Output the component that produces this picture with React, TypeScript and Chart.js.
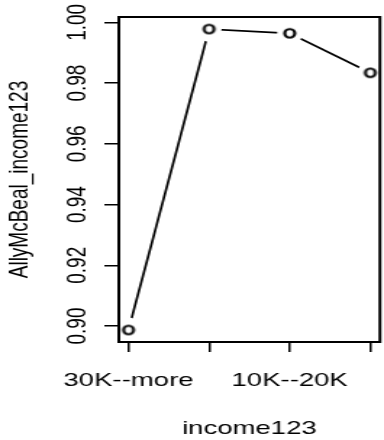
import React, { useEffect, useRef } from "react";
import { Chart, registerables } from "chart.js";

Chart.register(...registerables);

// ---- data ----
const categories = ["30K--more", "20K--30K", "10K--20K", "0--10K"];
const values = [0.8987, 0.9978, 0.9964, 0.9834];
const yTickValues = [0.9, 0.92, 0.94, 0.96, 0.98, 1.0];
// R drops the overlapping labels: only these category labels are printed
const shownLabelIndices = [0, 2];

// ---- layout (the reference is horizontally stretched) ----
const OUT_W = 384;
const OUT_H = 440;
const CANVAS_W = 265;
const SX = OUT_W / CANVAS_W;
const FONT = "'Liberation Sans', Arial, Helvetica, sans-serif";
const FONT_SIZE = 19;
const GAP_SCREEN_R = 12.5; // R type="b" gap around each point

function ellipseImage(
  wScreen: number,
  hScreen: number,
  lineWidth: number,
  fill: string | null,
  stroke: string | null
): HTMLCanvasElement {
  const rx = wScreen / 2 / SX;
  const ry = hScreen / 2;
  const c = document.createElement("canvas");
  c.width = Math.ceil(2 * rx + lineWidth + 2);
  c.height = Math.ceil(2 * ry + lineWidth + 2);
  const ctx = c.getContext("2d")!;
  ctx.beginPath();
  ctx.ellipse(c.width / 2, c.height / 2, rx, ry, 0, 0, Math.PI * 2);
  if (fill) {
    ctx.fillStyle = fill;
    ctx.fill();
  }
  if (stroke) {
    ctx.lineWidth = lineWidth;
    ctx.strokeStyle = stroke;
    ctx.stroke();
  }
  return c;
}

// After the connecting line (dataset 1) is drawn, blank a gap around each point
const gapPlugin = {
  id: "rgap",
  afterDatasetDraw(chart: any, args: any) {
    if (args.index !== 1) return;
    const { ctx, chartArea } = chart;
    const meta = chart.getDatasetMeta(0);
    ctx.save();
    ctx.beginPath();
    ctx.rect(
      chartArea.left,
      chartArea.top,
      chartArea.right - chartArea.left,
      chartArea.bottom - chartArea.top
    );
    ctx.clip();
    ctx.fillStyle = "#fff";
    for (const el of meta.data) {
      ctx.beginPath();
      ctx.ellipse(el.x, el.y, GAP_SCREEN_R / SX, GAP_SCREEN_R, 0, 0, Math.PI * 2);
      ctx.fill();
    }
    ctx.restore();
  },
};

const boxPlugin = {
  id: "rbox",
  afterDatasetsDraw(chart: any) {
    const { ctx, chartArea } = chart;
    ctx.save();
    ctx.strokeStyle = "#000";
    ctx.lineWidth = 2;
    ctx.strokeRect(
      chartArea.left,
      chartArea.top,
      chartArea.right - chartArea.left,
      chartArea.bottom - chartArea.top
    );
    ctx.restore();
  },
};

export default function App() {
  const ref = useRef<HTMLCanvasElement | null>(null);

  useEffect(() => {
    document.body.style.margin = "0";
    if (!ref.current) return;

    const lo = Math.min(...values);
    const hi = Math.max(...values);
    const yPad = (hi - lo) * 0.04;
    const n = categories.length;
    const xPad = (n - 1) * 0.04;
    const pts = values.map((v, i) => ({ x: i, y: v }));

    const ring = ellipseImage(10, 8.5, 2.2, "#fff", "#000");

    const font = { family: FONT, size: FONT_SIZE };
    const gridOpts = {
      display: true,
      drawOnChartArea: false,
      drawTicks: true,
      tickLength: 10,
      color: "#000",
      lineWidth: 1.5,
    };

    const chart = new Chart(ref.current, {
      type: "line",
      data: {
        datasets: [
          {
            data: pts,
            showLine: false,
            pointStyle: ring as any,
            pointRadius: 6,
            clip: false as any,
          },
          {
            data: pts,
            borderColor: "#000",
            borderWidth: 1.7,
            pointRadius: 0,
            tension: 0,
            fill: false,
          },
        ],
      },
      options: {
        animation: false,
        responsive: false,
        devicePixelRatio: 1,
        layout: {
          autoPadding: false,
          padding: { top: 17, right: 2.8, left: 0, bottom: 0 },
        },
        plugins: {
          legend: { display: false },
          tooltip: { enabled: false },
        },
        scales: {
          x: {
            type: "linear",
            min: -xPad,
            max: n - 1 + xPad,
            afterBuildTicks: (s: any) => {
              s.ticks = categories.map((_, i) => ({ value: i }));
            },
            afterFit: (s: any) => {
              s.height = OUT_H - 342;
              s.paddingLeft = 0;
              s.paddingRight = 0;
            },
            ticks: {
              autoSkip: false,
              maxRotation: 0,
              minRotation: 0,
              padding: 17,
              color: "#000",
              font,
              callback: (_v: any, index: number) =>
                shownLabelIndices.includes(index) ? categories[index] : "",
            },
            grid: gridOpts,
            border: { display: false },
            title: {
              display: true,
              text: "income123",
              color: "#000",
              font,
              padding: { top: 0, bottom: 0 },
            },
          },
          y: {
            type: "linear",
            min: lo - yPad,
            max: hi + yPad,
            afterBuildTicks: (s: any) => {
              s.ticks = yTickValues.map((v) => ({ value: v }));
            },
            afterFit: (s: any) => {
              s.width = 82;
              s.paddingTop = 0;
              s.paddingBottom = 0;
            },
            ticks: {
              minRotation: 90,
              maxRotation: 90,
              crossAlign: "center",
              padding: 0,
              color: "#000",
              font,
              callback: (v: any) => Number(v).toFixed(2),
            },
            grid: gridOpts,
            border: { display: false },
            title: {
              display: true,
              text: "AllyMcBeal_income123",
              color: "#000",
              font,
              padding: { top: 2, bottom: 0 },
            },
          },
        },
      },
      plugins: [gapPlugin, boxPlugin],
    });

    return () => chart.destroy();
  }, []);

  return (
    <canvas
      ref={ref}
      width={CANVAS_W}
      height={OUT_H}
      style={{ width: OUT_W + "px", height: OUT_H + "px", display: "block" }}
    />
  );
}
